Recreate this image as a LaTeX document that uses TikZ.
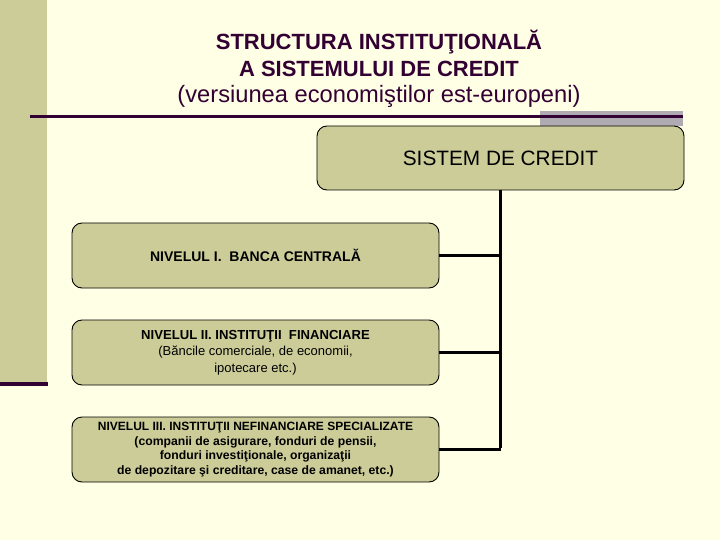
\documentclass[tikz,border=0pt]{standalone}
\usepackage{fontspec}
\setmainfont{Liberation Sans}
\definecolor{bgc}{RGB}{255,255,229}
\definecolor{khaki}{RGB}{204,204,153}
\definecolor{plum}{RGB}{51,0,51}
\definecolor{greybar}{RGB}{176,170,178}
\begin{document}
\begin{tikzpicture}[x=1pt,y=-1pt,
  levelbox/.style={draw=black,line width=0.9pt,fill=khaki,rounded corners=10pt,
    minimum width=367pt,minimum height=65pt,align=center,inner sep=0pt},
  link/.style={line width=3pt,draw=black}]
\useasboundingbox (0,0) rectangle (720,540);
\fill[bgc] (0,0) rectangle (720,540);
\fill[khaki] (0,0) rectangle (47,383);
\fill[plum] (0,382) rectangle (48,386);
\fill[greybar] (540,111) rectangle (683,126);
\draw[plum,line width=3pt] (30,117) -- (683,117);
\node[text=plum,font=\fontsize{22}{26.5}\selectfont,align=center,inner sep=0pt] (title) at (379,69)
  {\bfseries STRUCTURA INSTITUŢIONALĂ\\\bfseries A SISTEMULUI DE CREDIT\\\fontsize{23.7}{26.5}\selectfont(versiunea economiştilor est-europeni)};
\node[levelbox,minimum height=64pt,font=\fontsize{20.8}{22}\selectfont] (sys) at (500.5,158) {SISTEM DE CREDIT};
\node[levelbox,font=\bfseries\fontsize{14}{14}\selectfont] (b1) at (255.5,255.5) {NIVELUL I.\ \ BANCA CENTRALĂ};
\node[levelbox,font=\fontsize{13}{16.5}\selectfont] (b2) at (255.5,352.5) {\bfseries\fontsize{13.1}{16.5}\selectfont NIVELUL II. INSTITUŢII\ \ FINANCIARE\\
  (Băncile comerciale, de economii,\\ ipotecare etc.)};
\node[levelbox,font=\bfseries\fontsize{12.2}{14.4}\selectfont] (b3) at (255.5,449.5) {\fontsize{12}{14.4}\selectfont NIVELUL III. INSTITUŢII NEFINANCIARE SPECIALIZATE\\
  (companii de asigurare, fonduri de pensii,\\
  fonduri investiţionale, organizaţii\\
  de depozitare şi creditare, case de amanet, etc.)};
\coordinate (trunkend) at (sys.south |- b3.east);
\draw[link] (sys.south) -- ([yshift=1.5pt]trunkend);
\draw[link] (b1.east) -- (b1.east -| sys.south);
\draw[link] (b2.east) -- (b2.east -| sys.south);
\draw[link] (b3.east) -- (trunkend);
\end{tikzpicture}
\end{document}
